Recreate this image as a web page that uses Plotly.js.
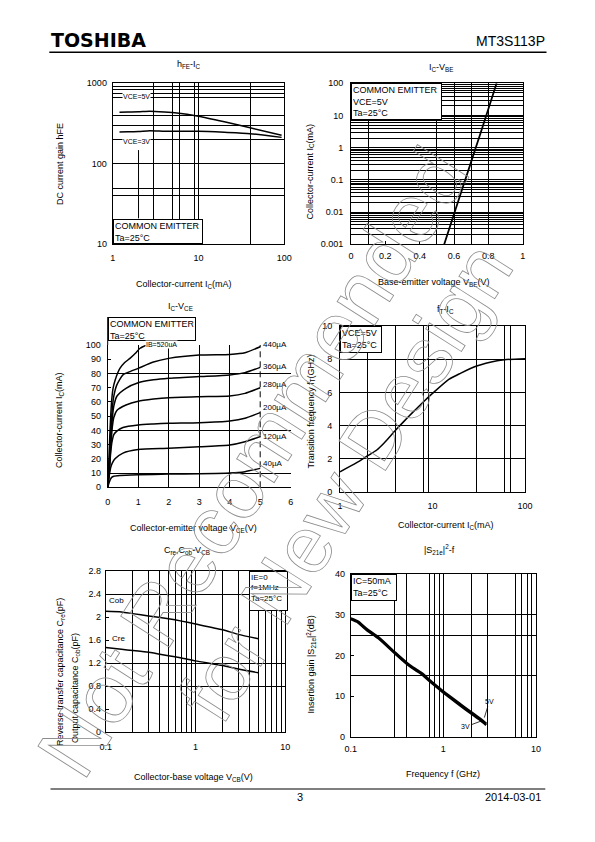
<!DOCTYPE html>
<html><head><meta charset="utf-8">
<script src="https://cdn.plot.ly/plotly-3.0.1.min.js"></script>
<style>html,body{margin:0;padding:0;background:#fff}#chart{width:595px;height:842px}</style>
</head><body><div id="chart"></div>
<script>
// ---------- DATA ----------
// hFE - IC
const hfeIc    = [1.2, 1.5, 2, 2.7, 4, 5.6, 10, 20, 40, 93];
const hfeVce5  = [437, 440, 442, 449, 440, 428, 389, 332, 280, 226];
const hfeVce3  = [248, 250, 252, 258, 254, 253, 253, 246, 237, 213];
const hfeLabels = ['VCE=5V', 'VCE=3V'];
// IC - VBE
const vbe   = [0.543, 0.6, 0.65, 0.7, 0.75, 0.8, 0.848];
const icVbe = [0.001, 0.0087, 0.057, 0.37, 2.4, 16, 100];
// IC - VCE
const ib520V = [0, 0.04, 0.08, 0.13, 0.18, 0.24, 0.32, 0.4, 0.55, 0.73, 0.9, 1.06, 1.28];
const ib520I = [0, 20, 42, 61, 70, 75, 80, 83.6, 87.5, 90.6, 94, 97.7, 100];
const ib440V = [0, 0.05, 0.1, 0.15, 0.2, 0.3, 0.5, 0.75, 1, 1.5, 2, 3, 4, 4.5, 5];
const ib440I = [0, 15, 38, 55, 64, 72, 79, 81.5, 83.6, 88, 90.6, 93, 93.4, 94.5, 98.8];
const ib360V = [0, 0.05, 0.1, 0.15, 0.2, 0.3, 0.6, 1, 1.5, 2, 3, 4, 4.5, 5];
const ib360I = [0, 14, 33, 48, 57, 64, 69.6, 73.5, 75.5, 76.6, 77.8, 79, 80.6, 84.3];
const ib280V = [0, 0.05, 0.1, 0.15, 0.2, 0.3, 0.6, 1, 1.5, 2, 3, 4, 4.5, 5];
const ib280I = [0, 12, 28, 42, 49, 54, 57.8, 60.5, 62, 63, 63.7, 64.2, 66, 70];
const ib200V = [0, 0.05, 0.1, 0.15, 0.2, 0.3, 0.5, 1, 1.5, 2, 3, 4, 4.5, 5];
const ib200I = [0, 10, 25, 33, 37, 39.5, 42, 43.8, 44.5, 45, 45.4, 46.6, 48.5, 52.5];
const ib120V = [0, 0.05, 0.1, 0.15, 0.24, 0.5, 1, 2, 3, 4, 4.5, 5];
const ib120I = [0, 8, 14, 17, 20, 24, 26.5, 27.4, 28.5, 29.7, 32, 35.6];
const ib40V  = [0, 0.05, 0.1, 0.13, 0.2, 0.4, 1, 2, 3, 4, 4.5, 5];
const ib40I  = [0, 3.5, 6, 7, 7.8, 8.3, 8.8, 9.3, 9.5, 10, 11, 13.3];
const ibLabels = ['IB=520uA', '440µA', '360µA', '280µA', '200µA', '120µA', '40µA'];
// fT - IC
const ftIc = [1, 1.5, 2, 2.5, 3, 4, 5, 6, 8, 10, 15, 20, 30, 50, 60, 100];
const ftGHz = [1.22, 1.75, 2.19, 2.53, 2.95, 3.73, 4.3, 4.75, 5.44, 5.94, 6.79, 7.15, 7.59, 7.91, 7.97, 8.03];
// Cre, Cob - VCB
const vcb = [0.1, 0.15, 0.2, 0.3, 0.5, 0.7, 1, 2, 3, 5];
const cob = [2.1, 2.09, 2.06, 2.02, 1.97, 1.93, 1.88, 1.78, 1.70, 1.625];
const cre = [1.47, 1.44, 1.42, 1.39, 1.33, 1.29, 1.24, 1.16, 1.10, 1.035];
// |S21e|^2 - f
const freq   = [0.1, 0.12, 0.15, 0.2, 0.3, 0.4, 0.5, 0.6, 0.7, 0.8, 1, 1.5, 2, 2.5, 2.9];
const gain3V = [28.9, 28.1, 26.2, 24.2, 20.5, 18.0, 16.4, 15.2, 13.8, 12.7, 10.9, 7.8, 5.7, 4.1, 2.9];
const gain5V = [29.1, 28.3, 26.4, 24.4, 20.7, 18.2, 16.6, 15.4, 14.0, 12.9, 11.1, 8.1, 6.0, 4.4, 3.2];

// ---------- LAYOUT HELPERS ----------
const W = 595, H = 842;
const px = v => v / W;
const py = v => 1 - v / H;
const F = 'Liberation Sans, Arial, sans-serif';
function logMinor(d0, d1) { const v = []; for (let e = d0; e < d1; e++) for (let k = 2; k <= 9; k++) v.push(+(k * Math.pow(10, e)).toPrecision(3)); return v; }
function grid(vals) { return {tickmode: 'array', tickvals: vals, showgrid: true, gridcolor: '#000', gridwidth: 1, ticks: ''}; }
const base = {showline: true, linecolor: '#000', linewidth: 1, zeroline: false, gridcolor: '#000', gridwidth: 1,
  tickfont: {family: F, size: 9, color: '#000'}, ticks: '', fixedrange: true, tickmode: 'array'};

const lw = 1.5;
function tr(x, y, xa, ya, w) { return {x: x, y: y, xaxis: xa, yaxis: ya, mode: 'lines', hoverinfo: 'skip', showlegend: false,
  line: {color: '#000', width: w || lw, shape: 'spline', smoothing: 0.6}}; }

const data = [
  tr(hfeIc, hfeVce5, 'x', 'y'), tr(hfeIc, hfeVce3, 'x', 'y'),
  tr(vbe, icVbe, 'x2', 'y2', 1.8),
  tr(ib520V, ib520I, 'x3', 'y3'), tr(ib440V, ib440I, 'x3', 'y3'), tr(ib360V, ib360I, 'x3', 'y3'),
  tr(ib280V, ib280I, 'x3', 'y3'), tr(ib200V, ib200I, 'x3', 'y3'), tr(ib120V, ib120I, 'x3', 'y3'), tr(ib40V, ib40I, 'x3', 'y3'),
  tr(ftIc, ftGHz, 'x4', 'y4'),
  tr(vcb, cob, 'x5', 'y5'), tr(vcb, cre, 'x5', 'y5'),
  tr(freq, gain3V, 'x6', 'y6', 2.6), tr(freq, gain5V, 'x6', 'y6', 2.6)
];

const layout = {
  width: W, height: H, margin: {l: 0, r: 0, t: 0, b: 0}, paper_bgcolor: '#fff', plot_bgcolor: '#fff', showlegend: false,
  font: {family: F, size: 9, color: '#000'},
  // chart 1
  xaxis: Object.assign({}, base, {type: 'log', domain: [px(112.7), px(284.3)], range: [0, 2], anchor: 'y', mirror: true,
    tickvals: [1, 10, 100], ticktext: ['1', '10', '100'], showgrid: true, ticklabelstandoff: 5, minor: grid([3, 5, 6, 9, 40])}),
  yaxis: Object.assign({}, base, {type: 'log', domain: [py(244.3), py(83.3)], range: [1, 3], anchor: 'x', mirror: true,
    tickvals: [10, 100, 1000], ticktext: ['10', '100', '1000'], showgrid: true, ticklabelstandoff: 3,
    minor: grid([40, 50, 200, 300, 400, 660, 740, 840, 920])}),
  // chart 2
  xaxis2: Object.assign({}, base, {domain: [px(351), px(522.7)], range: [0, 1], anchor: 'y2', mirror: true,
    tickvals: [0, 0.2, 0.4, 0.6, 0.8, 1], ticktext: ['0', '0.2', '0.4', '0.6', '0.8', '1'], showgrid: false,
    ticks: 'inside', ticklen: 3, tickcolor: '#000', ticklabelstandoff: 3, minor: grid([0.1, 0.5, 0.6, 0.7, 0.8])}),
  yaxis2: Object.assign({}, base, {type: 'log', domain: [py(244.3), py(83.3)], range: [-3, 2], anchor: 'x2', mirror: true,
    tickvals: [0.001, 0.01, 0.1, 1, 10, 100], ticktext: ['0.001', '0.01', '0.1', '1', '10', '100'], showgrid: true,
    ticklabelstandoff: 5, minor: grid(logMinor(-3, 2))}),
  // chart 3
  xaxis3: Object.assign({}, base, {domain: [px(107.7), px(290.7)], range: [0, 6], anchor: 'y3',
    tickvals: [0, 1, 2, 3, 4, 5, 6], showgrid: false, ticklabelstandoff: 6, minor: grid([1, 2, 3, 4])}),
  yaxis3: Object.assign({}, base, {domain: [py(487.3), py(345)], range: [0, 100], anchor: 'x3',
    tickvals: [0, 10, 20, 30, 40, 50, 60, 70, 80, 90, 100], showgrid: false, ticks: 'inside', ticklen: 3, tickcolor: '#000',
    ticklabelstandoff: 4, minor: grid([10, 40, 80, 100])}),
  // chart 4
  xaxis4: Object.assign({}, base, {type: 'log', domain: [px(340), px(525)], range: [0, 2], anchor: 'y4', mirror: true,
    tickvals: [1, 10, 100], ticktext: ['1', '10', '100'], showgrid: false, ticklabelstandoff: 5, minor: grid([2, 4, 8, 9, 30, 60, 70])}),
  yaxis4: Object.assign({}, base, {domain: [py(492), py(326)], range: [0, 10], anchor: 'x4', mirror: true,
    tickvals: [0, 2, 4, 6, 8, 10], showgrid: true, ticklabelstandoff: 5}),
  // chart 5
  xaxis5: Object.assign({}, base, {type: 'log', domain: [px(105.7), px(285.3)], range: [-1, 1], anchor: 'y5', mirror: true,
    tickvals: [0.1, 1, 10], ticktext: ['0.1', '1', '10'], showgrid: true, ticklabelstandoff: 6, minor: grid(logMinor(-1, 1))}),
  yaxis5: Object.assign({}, base, {domain: [py(732.3), py(571)], range: [0, 2.8], anchor: 'x5', mirror: true,
    tickvals: [0, 0.4, 0.8, 1.2, 1.6, 2, 2.4, 2.8], ticktext: ['0', '0.4', '0.8', '1.2', '1.6', '2', '2.4', '2.8'],
    showgrid: false, ticks: 'inside', ticklen: 3, tickcolor: '#000', ticklabelstandoff: 2, minor: grid([0.8, 1.2, 2.4])}),
  // chart 6
  xaxis6: Object.assign({}, base, {type: 'log', domain: [px(350.7), px(536)], range: [-1, 1], anchor: 'y6', mirror: true,
    tickvals: [0.1, 1, 10], ticktext: ['0.1', '1', '10'], showgrid: true, ticklabelstandoff: 3,
    minor: grid([0.3, 0.4, 0.7, 0.8, 0.9, 2, 3, 6, 7, 8, 9])}),
  yaxis6: Object.assign({}, base, {domain: [py(736.7), py(574)], range: [0, 40], anchor: 'x6', mirror: true,
    tickvals: [0, 10, 20, 30, 40], showgrid: false, ticks: 'inside', ticklen: 3, tickcolor: '#000', ticklabelstandoff: 3,
    minor: grid([15, 25, 30])}),
  shapes: [
    {type: 'line', xref: 'paper', yref: 'paper', x0: px(49.3), x1: px(546.5), y0: py(52.3), y1: py(52.3), line: {color: '#000', width: 1.5}},
    {type: 'line', xref: 'paper', yref: 'paper', x0: px(50.5), x1: px(545.3), y0: py(789), y1: py(789), line: {color: '#000', width: 1.2}},
    // partial gridline in chart 1
    {type: 'line', xref: 'x', yref: 'y', x0: 2, x1: 2, y0: 21, y1: 148, line: {color: '#000', width: 1}},
    // dashed limit in chart 3
    {type: 'line', xref: 'x3', yref: 'y3', x0: 5, x1: 5, y0: 0, y1: 100, line: {color: '#000', width: 1, dash: '6px,4px'}},
    // chart 3 axis line up to box
    {type: 'line', xref: 'paper', yref: 'paper', x0: px(107.7), x1: px(107.7), y0: py(317), y1: py(345), line: {color: '#000', width: 1}}
  ],
  annotations: []
};

const A = layout.annotations;
function txt(text, x, y, o) { A.push(Object.assign({text: text, x: px(x), y: py(y), xref: 'paper', yref: 'paper', showarrow: false,
  xanchor: 'center', yanchor: 'middle', font: {family: F, size: 9, color: '#000'}}, o || {})); }
function box(text, L, T, R, B, size) {
  A.push({text: text, xref: 'paper', yref: 'paper', x: px(L), y: py(T), xanchor: 'left', yanchor: 'top', showarrow: false,
    width: R - L - 2, height: B - T - 4, align: 'left', valign: 'top', bgcolor: '#fff', bordercolor: '#000', borderwidth: 1, borderpad: 1,
    font: {family: F, size: size || 9, color: '#000'}});
}

// header / footer
txt('TOSHIBA', 49.3, 40, {xanchor: 'left', font: {family: 'DejaVu Sans, sans-serif', size: 19, color: '#000', weight: 'bold'}});
txt('MT3S113P', 546.5, 41, {xanchor: 'right', font: {family: F, size: 14, color: '#000'}});
txt('3', 300, 797, {font: {family: F, size: 11, color: '#000'}});
txt('2014-03-01', 543, 797, {xanchor: 'right', font: {family: F, size: 11, color: '#000'}});

// chart titles
txt('h<sub>FE</sub>-I<sub>C</sub>', 188.7, 64);
txt('I<sub>C</sub>-V<sub>BE</sub>', 441, 67);
txt('I<sub>C</sub>-V<sub>CE</sub>', 181, 306);
txt('f<sub>T</sub>-I<sub>C</sub>', 445, 309);
txt('C<sub>re</sub>,C<sub>ob</sub>-V<sub>CB</sub>', 187, 550);
txt('|S<sub>21e</sub>|<sup>2</sup>-f', 439, 549);

// x-axis titles
txt('Collector-current I<sub>C</sub>(mA)', 184, 284);
txt('Base-emitter voltage V<sub>BE</sub>(V)', 433, 282);
txt('Collector-emitter voltage V<sub>CE</sub>(V)', 193.5, 528);
txt('Collector-current I<sub>C</sub>(mA)', 446, 525);
txt('Collector-base voltage V<sub>CB</sub>(V)', 193.5, 777);
txt('Frequency f (GHz)', 443, 774);

// y-axis titles
txt('DC current gain hFE', 60, 164, {textangle: -90});
txt('Collector-current I<sub>C</sub>(mA)', 309.5, 172, {textangle: -90});
txt('Collector-current I<sub>C</sub>(mA)', 59, 420, {textangle: -90});
txt('Transition frequency f<sub>T</sub>(GHz)', 310.5, 412, {textangle: -90});
txt('Reverse transfer capacitance C<sub>re</sub>(pF)', 60, 748, {textangle: -90, yanchor: 'bottom'});
txt('Output capacitance C<sub>ob</sub>(pF)', 75, 745, {textangle: -90, yanchor: 'bottom'});
txt('Insertion gain |S<sub>21e</sub>|<sup>2</sup>(dB)', 310.5, 665, {textangle: -90});

// condition boxes
box('COMMON EMITTER<br>Ta=25°C', 112.7, 219, 201, 244.3);
box('COMMON EMITTER<br>VCE=5V<br>Ta=25°C', 351, 83.3, 440, 120);
box('COMMON EMITTER<br>Ta=25°C', 107.7, 317, 193.3, 341);
box('VCE=5V<br>Ta=25°C', 340, 326, 380, 353.3);
box('IE=0<br>f=1MHz<br>Ta=25°C', 248.5, 571, 285.3, 611, 8);
box('IC=50mA<br>Ta=25°C', 350.7, 574, 395, 600.8);

// curve labels
const lbl = (t, x, y, s, o) => txt(t, x, y, Object.assign({bgcolor: '#fff', borderpad: 0, font: {family: F, size: s, color: '#000'}}, o || {}));
lbl(hfeLabels[0], 136.5, 96, 7);
lbl(hfeLabels[1], 136.5, 141, 7);
lbl(ibLabels[0], 161.7, 345, 7);
const ibY = [345, 366, 384.3, 407.7, 436.7, 464];
for (let i = 1; i < ibLabels.length; i++) lbl(ibLabels[i], 262, ibY[i - 1], 8, {xanchor: 'left'});
lbl('Cob', 116.7, 600, 8);
lbl('Cre', 118.3, 638.3, 8);
A.push({text: '5V', xref: 'x6', yref: 'y6', x: Math.log10(2.77), y: 4.7, showarrow: true, arrowhead: 0, arrowwidth: 0.8, arrowcolor: '#000',
  ax: 5, ay: -16, font: {family: F, size: 7, color: '#000'}});
A.push({text: '3V', xref: 'x6', yref: 'y6', x: Math.log10(2.59), y: 3.9, showarrow: true, arrowhead: 0, arrowwidth: 0.8, arrowcolor: '#000',
  ax: -16, ay: 6, font: {family: F, size: 7, color: '#000'}});

// watermark
txt('Not Recommended', 253, 462, {textangle: -57.5, font: {family: F, size: 84, color: 'rgba(0,0,0,0)'}});
txt('for New Design', 345, 482, {textangle: -57.5, font: {family: F, size: 80, color: 'rgba(0,0,0,0)'}});

Plotly.newPlot('chart', data, layout, {staticPlot: true, displayModeBar: false}).then(function (gd) {
  gd.querySelectorAll('.annotation-text').forEach(function (t) {
    if (/Recommended|New Design/.test(t.textContent)) {
      t.style.fill = 'none'; t.style.stroke = '#8c8c8c'; t.style.strokeWidth = '0.8px';
    }
  });
});
</script></body></html>
